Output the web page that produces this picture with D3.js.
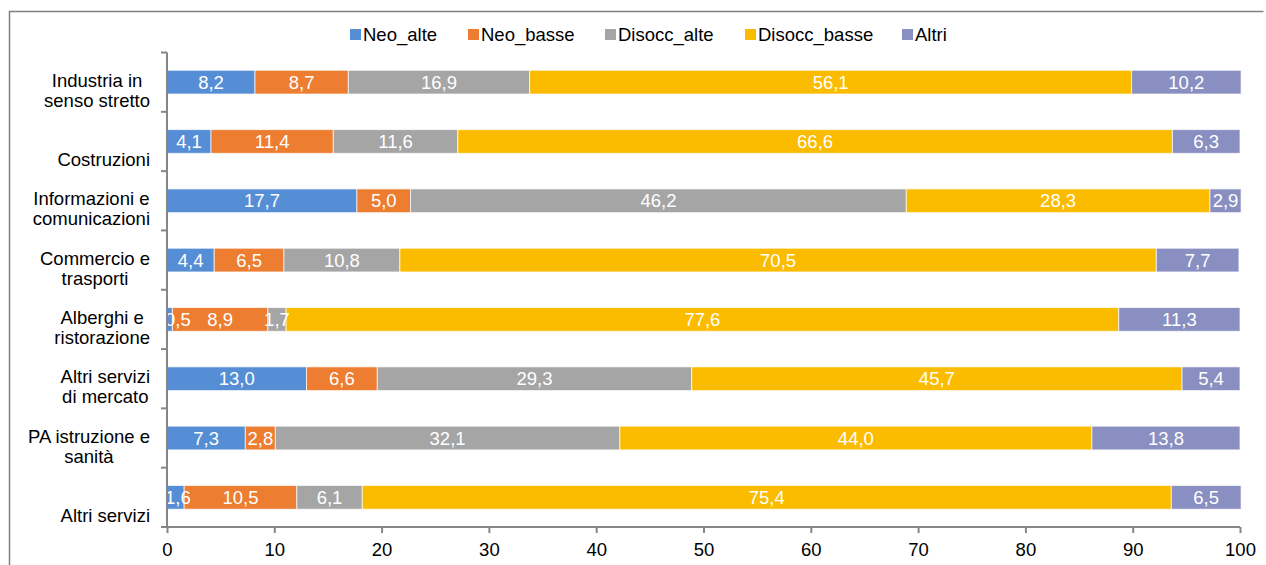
<!DOCTYPE html>
<html>
<head>
<meta charset="utf-8">
<script src="https://cdn.jsdelivr.net/npm/d3@7"></script>
<style>
  html, body { margin: 0; padding: 0; background: #fff; }
  svg { display: block; font-family: "Liberation Sans", Arial, sans-serif; }
</style>
</head>
<body>
<svg id="chart" width="1266" height="565"></svg>
<script>
// ---- Data ----
const categories = [
  "Industria in\nsenso stretto",
  "Costruzioni",
  "Informazioni e\ncomunicazioni",
  "Commercio e\ntrasporti",
  "Alberghi e\nristorazione",
  "Altri servizi\ndi mercato",
  "PA istruzione e\nsanità",
  "Altri servizi"
];
const seriesNames = ["Neo_alte", "Neo_basse", "Disocc_alte", "Disocc_basse", "Altri"];
const neoAlte     = [8.2, 4.1, 17.7, 4.4, 0.5, 13.0, 7.3, 1.6];
const neoBasse    = [8.7, 11.4, 5.0, 6.5, 8.9, 6.6, 2.8, 10.5];
const disoccAlte  = [16.9, 11.6, 46.2, 10.8, 1.7, 29.3, 32.1, 6.1];
const disoccBasse = [56.1, 66.6, 28.3, 70.5, 77.6, 45.7, 44.0, 75.4];
const altri       = [10.2, 6.3, 2.9, 7.7, 11.3, 5.4, 13.8, 6.5];
const xTicks = [0, 10, 20, 30, 40, 50, 60, 70, 80, 90, 100];
const colors = ["#558ED5", "#ED7D31", "#A5A5A5", "#FBBC00", "#8A8FC2"];

const seriesValues = [neoAlte, neoBasse, disoccAlte, disoccBasse, altri];
const rows = categories.map((c, i) => {
  const r = { cat: c };
  seriesNames.forEach((s, k) => r[s] = seriesValues[k][i]);
  return r;
});
const stacked = d3.stack().keys(seriesNames)(rows);

const svg = d3.select("#chart");
const fontSize = 18.5;
const axisColor = "#868686";

// outer frame
svg.append("path")
  .attr("d", "M9.5,600 L9.5,11.5 L1263.5,11.5")
  .attr("fill", "none").attr("stroke", "#7f7f7f").attr("stroke-width", 1.5);

const x = d3.scaleLinear().domain([0, 100]).range([167, 1240]);
const y = d3.scaleBand().domain(categories).range([52.5, 527])
  .paddingInner(0.6).paddingOuter(0.3);
const step = y.step();

// bars
const g = svg.append("g");
stacked.forEach((layer, k) => {
  g.append("g").selectAll("rect").data(layer).enter().append("rect")
    .attr("x", d => x(d[0]))
    .attr("y", d => y(d.data.cat))
    .attr("width", d => x(d[1]) - x(d[0]))
    .attr("height", y.bandwidth())
    .attr("fill", colors[k])
    .attr("stroke", "#fff").attr("stroke-opacity", 0.7).attr("stroke-width", 1);
});
// data labels (on top of all bars, kept inside plot area)
const labG = svg.append("g");
stacked.forEach((layer, k) => {
  layer.forEach(d => {
    const t = labG.append("text")
      .attr("y", y(d.data.cat) + y.bandwidth() / 2)
      .attr("dy", "0.36em")
      .attr("fill", "#fff")
      .attr("font-size", fontSize)
      .text(d3.format(".1f")(d[1] - d[0]).replace(".", ","));
    const w = t.node().getComputedTextLength();
    let left = (x(d[0]) + x(d[1])) / 2 - w / 2;
    left = Math.max(left, 165);
    left = Math.min(left, x(100) - w);
    t.attr("x", left);
  });
});

// left axis
const yBounds = categories.map(c => y(c) - step * 0.3).concat([y.range()[1]]);
const ya = svg.append("g");
ya.append("line").attr("x1", 167).attr("x2", 167)
  .attr("y1", yBounds[0]).attr("y2", 527)
  .attr("stroke", axisColor).attr("stroke-width", 2);
ya.selectAll("line.tick").data(yBounds).enter().append("line")
  .attr("class", "tick")
  .attr("x1", 161).attr("x2", 167)
  .attr("y1", d => d).attr("y2", d => d)
  .attr("stroke", axisColor).attr("stroke-width", 2);

// category labels
categories.forEach(c => {
  const lines = c.split("\n");
  const cy = y(c) + y.bandwidth() / 2;
  const tg = svg.append("g");
  const texts = lines.map((ln, i) => tg.append("text")
    .attr("font-size", fontSize)
    .attr("fill", "#000")
    .attr("text-anchor", "middle")
    .attr("y", cy + 18 - (lines.length - 1 - i) * 20)
    .attr("dy", "0.36em")
    .text(ln));
  const maxW = d3.max(texts, t => t.node().getComputedTextLength());
  texts.forEach(t => t.attr("x", 150 - maxW / 2));
});

// bottom axis
const xa = svg.append("g").attr("transform", "translate(0,527)")
  .call(d3.axisBottom(x).tickValues(xTicks).tickSize(6).tickSizeOuter(0).tickFormat(d3.format("d")));
xa.select(".domain").attr("stroke", axisColor).attr("stroke-width", 2)
  .attr("d", `M161,0H${x(100)}`);
xa.selectAll(".tick line").attr("stroke", axisColor).attr("stroke-width", 2);
xa.selectAll(".tick text").attr("font-size", fontSize).attr("fill", "#000")
  .attr("font-family", "Liberation Sans, Arial, sans-serif").attr("y", 16);

// legend
const legendX = [350, 468, 605, 745, 902];
const lg = svg.append("g");
seriesNames.forEach((s, k) => {
  lg.append("rect").attr("x", legendX[k]).attr("y", 29)
    .attr("width", 11).attr("height", 11).attr("fill", colors[k]);
  lg.append("text").attr("x", legendX[k] + 13).attr("y", 34.5).attr("dy", "0.36em")
    .attr("font-size", fontSize).attr("fill", "#000").text(s);
});
</script>
</body>
</html>
